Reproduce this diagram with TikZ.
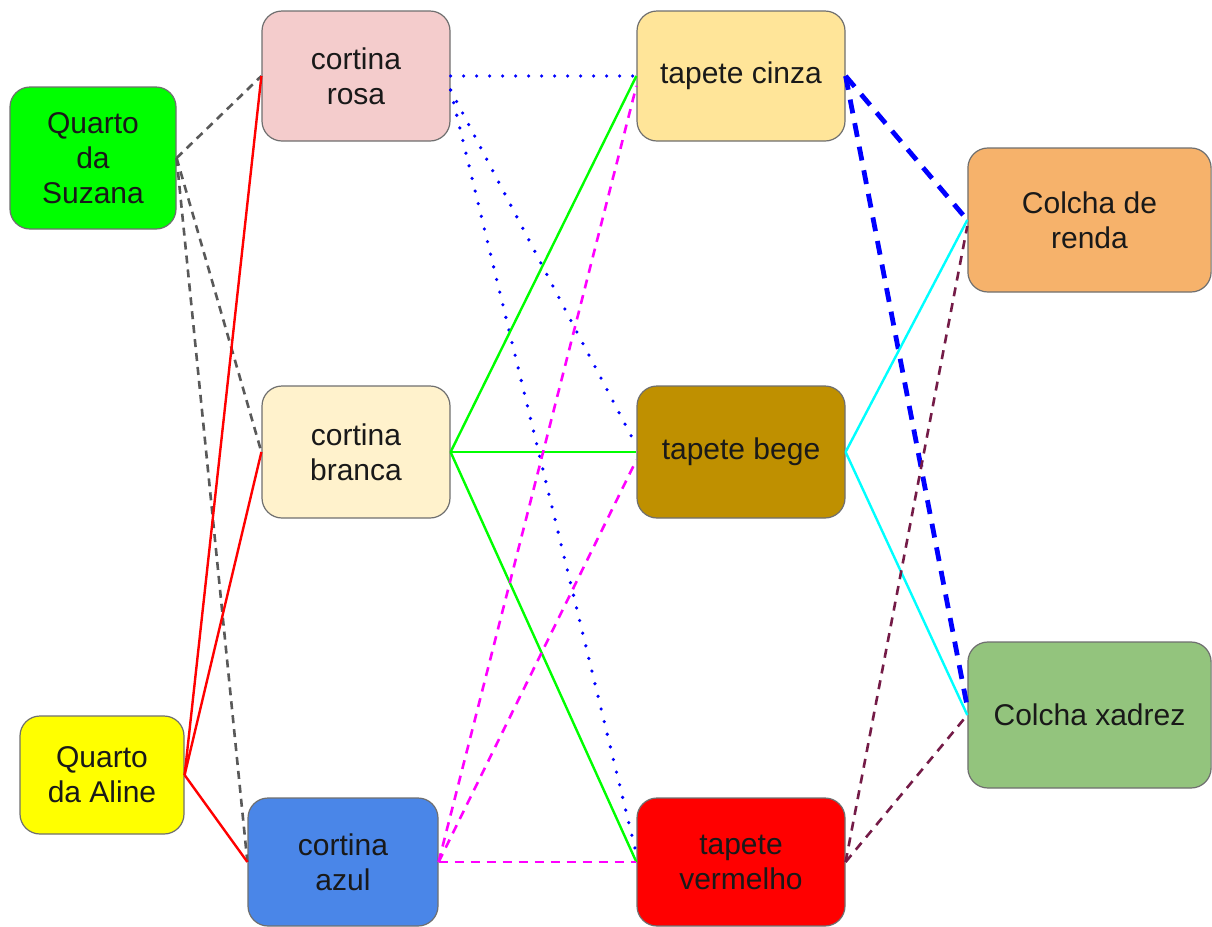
\documentclass[tikz,border=0pt]{standalone}
\usepackage{fontspec}
\setmainfont{Liberation Sans}
\usetikzlibrary{positioning}

\definecolor{suzana}{HTML}{00FF00}
\definecolor{aline}{HTML}{FFFF00}
\definecolor{rosa}{HTML}{F4CCCC}
\definecolor{branca}{HTML}{FFF2CC}
\definecolor{azul}{HTML}{4A86E8}
\definecolor{cinza}{HTML}{FFE599}
\definecolor{bege}{HTML}{BF9000}
\definecolor{vermelho}{HTML}{FF0000}
\definecolor{renda}{HTML}{F6B26B}
\definecolor{xadrez}{HTML}{93C47D}
\definecolor{borda}{HTML}{6F6F6F}
\definecolor{roxo}{HTML}{741B47}
\definecolor{rosachoque}{HTML}{FF00FF}
\definecolor{ciano}{HTML}{00FFFF}
\definecolor{azulforte}{HTML}{0000FF}

\tikzset{
  box/.style={draw=borda, line width=0.6pt, rounded corners=10pt, inner sep=0pt,
    align=center, text=black!90, font=\fontsize{15}{17.5}\selectfont},
  ligcinza/.style={draw=black!65, line width=1.3pt, dash pattern=on 4pt off 3pt},
  ligvermelha/.style={draw=vermelho, line width=1.2pt},
  ligpontos/.style={draw=azulforte, line width=1.8pt, line cap=round, dash pattern=on 0pt off 6.5pt},
  ligverde/.style={draw=suzana, line width=1.2pt},
  ligmagenta/.style={draw=rosachoque, line width=1.3pt, dash pattern=on 4.5pt off 3.5pt},
  ligazul/.style={draw=azulforte, line width=2.4pt, dash pattern=on 7pt off 5pt},
  ligciano/.style={draw=ciano, line width=1.2pt},
  ligroxa/.style={draw=roxo, line width=1.3pt, dash pattern=on 4.5pt off 3.5pt},
}

\begin{document}
\begin{tikzpicture}[x=0.5pt,y=-0.5pt]
  \useasboundingbox (0,0) rectangle (1212,927);

  % quartos
  \node[box, fill=suzana, minimum width=83pt, minimum height=71pt] (suz) at (93,158) {Quarto\\da\\Suzana};
  \node[box, fill=aline, minimum width=82pt, minimum height=59pt] (ali) at (102,775) {Quarto\\da Aline};

  % cortinas
  \node[box, fill=rosa, minimum width=94pt, minimum height=65pt] (crosa) at (356,76) {cortina\\rosa};
  \node[box, fill=branca, minimum width=94pt, minimum height=66pt] (cbranca) at (356,452) {cortina\\branca};
  \node[box, fill=azul, minimum width=95pt, minimum height=64pt] (cazul) at (343,862) {cortina\\azul};

  % tapetes
  \node[box, fill=cinza, minimum width=104pt, minimum height=65pt] (tcinza) at (741,76) {tapete cinza};
  \node[box, fill=bege, minimum width=104pt, minimum height=66pt] (tbege) at (741,452) {tapete bege};
  \node[box, fill=vermelho, minimum width=104pt, minimum height=64pt] (tverm) at (741,862) {tapete\\vermelho};

  % colchas
  \node[box, fill=renda, minimum width=121.6pt, minimum height=72pt] (crenda) at (1089.5,220) {Colcha de\\renda};
  \node[box, fill=xadrez, minimum width=121.6pt, minimum height=73pt] (cxadrez) at (1089.5,715) {Colcha xadrez};

  % quartos - cortinas
  \draw[ligcinza] (suz.east) -- (crosa.west);
  \draw[ligcinza] (suz.east) -- (cbranca.west);
  \draw[ligcinza] (suz.east) -- (cazul.west);
  \draw[ligvermelha] (ali.east) -- (crosa.west);
  \draw[ligvermelha] (ali.east) -- (cbranca.west);
  \draw[ligvermelha] (ali.east) -- (cazul.west);

  % cortinas - tapetes
  \draw[ligpontos] (crosa.east) -- (tcinza.west);
  \draw[ligpontos] ([yshift=-7pt]crosa.east) -- ([yshift=3pt]tbege.west);
  \draw[ligpontos] ([yshift=-7pt]crosa.east) -- ([yshift=4pt]tverm.west);
  \draw[ligverde] (cbranca.east) -- (tcinza.west);
  \draw[ligverde] (cbranca.east) -- (tbege.west);
  \draw[ligverde] (cbranca.east) -- (tverm.west);
  \draw[ligmagenta] (cazul.east) -- ([yshift=-5pt]tcinza.west);
  \draw[ligmagenta] (cazul.east) -- ([yshift=-4pt]tbege.west);
  \draw[ligmagenta] (cazul.east) -- (tverm.west);

  % tapetes - colchas
  \draw[ligazul] (tcinza.east) -- (crenda.west);
  \draw[ligazul] (tcinza.east) -- ([yshift=4pt]cxadrez.west);
  \draw[ligciano] (tbege.east) -- (crenda.west);
  \draw[ligciano] (tbege.east) -- (cxadrez.west);
  \draw[ligroxa] (tverm.east) -- ([yshift=-3pt]crenda.west);
  \draw[ligroxa] (tverm.east) -- (cxadrez.west);
\end{tikzpicture}
\end{document}
